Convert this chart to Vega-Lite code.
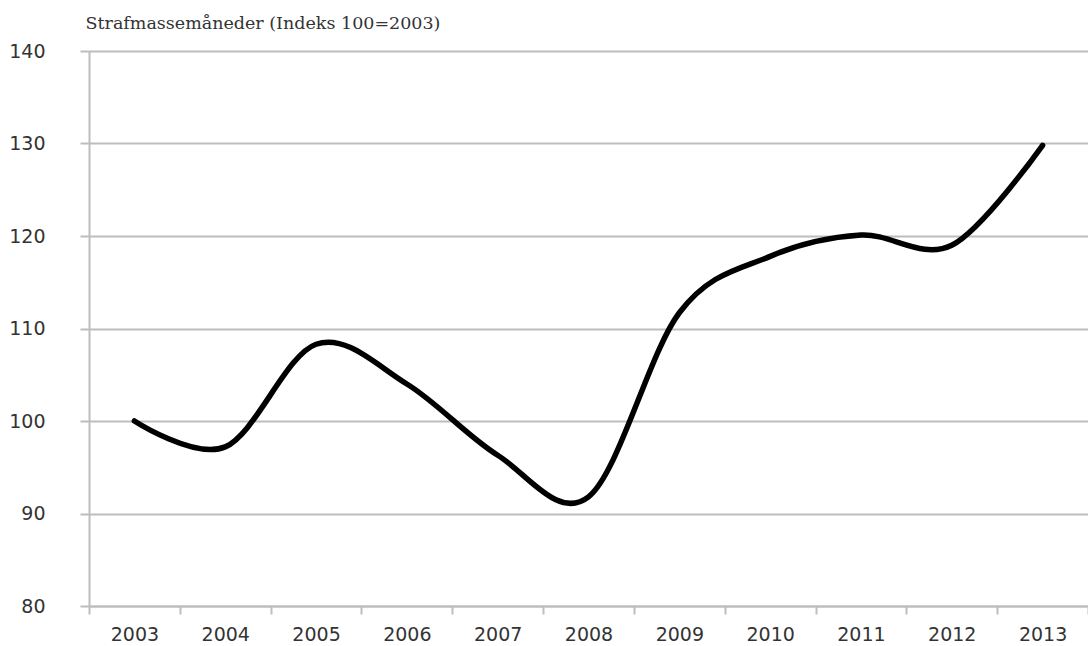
{
  "$schema": "https://vega.github.io/schema/vega-lite/v6.json",
  "width": 999,
  "height": 555,
  "autosize": {"type": "none"},
  "padding": {"left": 89, "top": 51, "right": 0, "bottom": 40},
  "background": "white",
  "config": {"view": {"stroke": null}},
  "data": {
    "values": [
      {"year": "2003", "index": 100.0},
      {"year": "2004", "index": 97.2},
      {"year": "2005", "index": 108.3},
      {"year": "2006", "index": 104.0},
      {"year": "2007", "index": 96.3},
      {"year": "2008", "index": 91.8},
      {"year": "2009", "index": 111.7},
      {"year": "2010", "index": 117.8},
      {"year": "2011", "index": 120.1},
      {"year": "2012", "index": 119.0},
      {"year": "2013", "index": 129.8}
    ]
  },
  "mark": {"type": "line", "color": "black", "strokeWidth": 5.5, "interpolate": "cardinal", "tension": 0, "strokeCap": "round", "strokeJoin": "round"},
  "encoding": {
    "x": {
      "field": "year",
      "type": "ordinal",
      "bandPosition": 0.5,
      "scale": {"type": "band", "paddingInner": 0, "paddingOuter": 0},
      "axis": {
        "title": null,
        "labelAngle": 0,
        "tickBand": "extent",
        "domainColor": "#bdbdbd",
        "domainWidth": 2,
        "tickColor": "#bdbdbd",
        "tickWidth": 2,
        "tickSize": 8,
        "labelPadding": 11,
        "labelFont": "DejaVu Sans",
        "labelFontSize": 19,
        "labelColor": "#333333",
        "grid": false
      }
    },
    "y": {
      "field": "index",
      "type": "quantitative",
      "scale": {"domain": [80, 140], "nice": false, "zero": false},
      "axis": {
        "values": [80, 90, 100, 110, 120, 130, 140],
        "title": "Strafmassemåneder (Indeks 100=2003)",
        "titleAngle": 0,
        "titleX": -4,
        "titleY": -23,
        "titleAlign": "left",
        "titleBaseline": "alphabetic",
        "titleFont": "DejaVu Serif",
        "titleFontSize": 17.5,
        "titleFontWeight": "normal",
        "titleColor": "#333333",
        "domainColor": "#bdbdbd",
        "domainWidth": 2,
        "tickColor": "#bdbdbd",
        "tickWidth": 2,
        "tickSize": 9,
        "labelPadding": 35,
        "labelFont": "DejaVu Sans",
        "labelFontSize": 19,
        "labelColor": "#333333",
        "grid": true,
        "gridColor": "#bdbdbd",
        "gridWidth": 2
      }
    }
  }
}
